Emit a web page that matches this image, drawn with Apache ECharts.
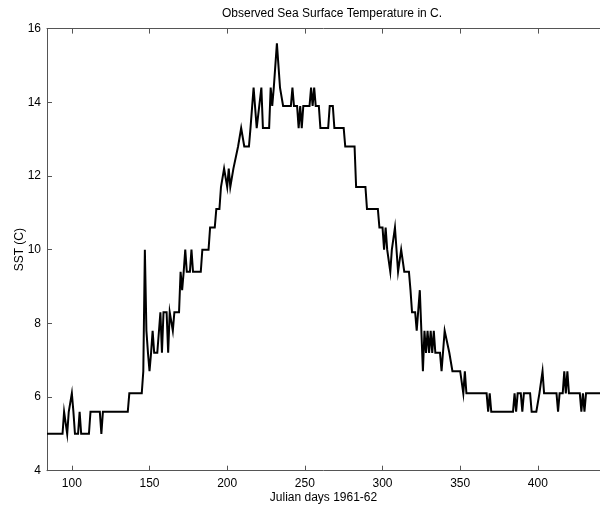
<!DOCTYPE html>
<html>
<head>
<meta charset="utf-8">
<script src="https://cdn.jsdelivr.net/npm/echarts@6/dist/echarts.min.js"></script>
<style>
  html, body { margin: 0; padding: 0; background: #fff; }
  #chart { width: 600px; height: 511px; }
</style>
</head>
<body>
<div id="chart"></div>
<script>
// Daily sea surface temperature record (vertices of the trace), °C
const days = [
  84, 94, 95, 96, 97, 98, 100, 101, 102, 104, 105, 106, 111, 112, 118, 119, 120, 136, 137, 145,
  146, 147, 148, 149, 150, 151, 152, 153, 155, 157, 158, 159, 161, 162, 163, 165, 166, 169, 170, 171,
  172, 173, 174, 176, 177, 178, 183, 184, 188, 189, 192, 193, 195, 196, 198, 200, 201, 202, 204, 205,
  207, 209, 210, 211, 214, 215, 217, 219, 222, 223, 227, 228, 229, 230, 231, 232, 234, 236, 241, 242,
  243, 245, 246, 247, 248, 249, 253, 254, 255, 256, 257, 259, 260, 265, 266, 268, 269, 275, 276, 282,
  283, 289, 290, 297, 298, 300, 301, 302, 303, 305, 306, 308, 310, 311, 312, 314, 317, 318, 319, 321,
  322, 324, 326, 327, 328, 329, 330, 331, 332, 333, 334, 337, 338, 340, 341, 343, 345, 350, 352, 353,
  354, 367, 368, 369, 370, 384, 385, 386, 387, 389, 390, 391, 395, 396, 399, 401, 402, 403, 404, 412,
  413, 414, 416, 417, 418, 419, 420, 421, 427, 428, 429, 430, 431, 440
];
const sst = [
  5.0, 5.0, 5.6, 5.6, 5.0, 5.6, 6.1, 5.6, 5.0, 5.0, 5.6, 5.0, 5.0, 5.6, 5.6, 5.0, 5.6, 5.6, 6.1, 6.1,
  6.7, 10.0, 7.8, 7.2, 6.7, 7.2, 7.8, 7.2, 7.2, 8.3, 7.2, 8.3, 8.3, 7.2, 8.3, 7.8, 8.3, 8.3, 9.4, 8.9,
  9.4, 10.0, 9.4, 9.4, 10.0, 9.4, 9.4, 10.0, 10.0, 10.6, 10.6, 11.1, 11.1, 11.7, 12.2, 11.7, 12.2, 11.7, 12.2, 12.2,
  12.8, 13.3, 13.3, 12.8, 12.8, 13.3, 14.4, 13.3, 14.4, 13.3, 13.3, 14.4, 13.9, 14.4, 14.4, 15.6, 14.4, 13.9, 13.9, 14.4,
  13.9, 13.9, 13.3, 13.9, 13.3, 13.9, 13.9, 14.4, 13.9, 14.4, 13.9, 13.9, 13.3, 13.3, 13.9, 13.9, 13.3, 13.3, 12.8, 12.8,
  11.7, 11.7, 11.1, 11.1, 10.6, 10.6, 10.0, 10.6, 10.0, 9.4, 10.0, 10.6, 9.4, 9.4, 10.0, 9.4, 9.4, 8.9, 8.3, 8.3,
  7.8, 8.9, 6.7, 7.8, 7.2, 7.8, 7.2, 7.8, 7.2, 7.8, 7.2, 7.2, 6.7, 7.8, 7.8, 7.2, 6.7, 6.7, 6.1, 6.7,
  6.1, 6.1, 5.6, 6.1, 5.6, 5.6, 6.1, 5.6, 6.1, 6.1, 5.6, 6.1, 6.1, 5.6, 5.6, 6.1, 6.1, 6.7, 6.1, 6.1,
  5.6, 6.1, 6.1, 6.7, 6.1, 6.7, 6.1, 6.1, 6.1, 5.6, 6.1, 5.6, 6.1, 6.1
];
const xTicks = [100, 150, 200, 250, 300, 350, 400];
const yTicks = [4, 6, 8, 10, 12, 14, 16];

const points = days.map((d, i) => [d, sst[i]]);
const font = 'Liberation Sans, Arial, Helvetica, sans-serif';
const axisGray = '#555555';

const chart = echarts.init(document.getElementById('chart'), null, { renderer: 'canvas' });
chart.setOption({
  animation: false,
  backgroundColor: '#ffffff',
  title: {
    text: 'Observed Sea Surface Temperature in C.',
    left: 327,
    top: 3,
    textAlign: 'center',
    textStyle: { fontFamily: font, fontSize: 12, fontWeight: 'normal', color: '#000' }
  },
  grid: { left: 47, right: -1, top: 28.6, bottom: 40.3, containLabel: false },
  xAxis: [
    {
      type: 'value', min: 84, max: 440, position: 'bottom',
      name: 'Julian days 1961-62', nameLocation: 'middle', nameGap: 21, nameMoveOverlap: false,
      nameTextStyle: { fontFamily: font, fontSize: 12, color: '#000' },
      axisLine: { show: true, lineStyle: { color: axisGray, width: 1 } },
      axisTick: { show: true, inside: true, length: 5, customValues: xTicks, lineStyle: { color: axisGray } },
      axisLabel: { customValues: xTicks, margin: 7, fontFamily: font, fontSize: 12, color: '#000' },
      splitLine: { show: false }
    },
    {
      type: 'value', min: 84, max: 440, position: 'top',
      axisLine: { show: true, onZero: false, lineStyle: { color: axisGray, width: 1 } },
      axisTick: { show: true, inside: true, length: 5, customValues: xTicks, lineStyle: { color: axisGray } },
      axisLabel: { show: false },
      splitLine: { show: false }
    }
  ],
  yAxis: {
    type: 'value', min: 4, max: 16, interval: 2,
    name: 'SST (C)', nameLocation: 'middle', nameGap: 21, nameRotate: 90, nameMoveOverlap: false,
    nameTextStyle: { fontFamily: font, fontSize: 12, color: '#000' },
    axisLine: { show: true, lineStyle: { color: axisGray, width: 1 } },
    axisTick: { show: true, inside: true, length: 5, lineStyle: { color: axisGray } },
    axisLabel: { margin: 6, fontFamily: font, fontSize: 12, color: '#000' },
    splitLine: { show: false }
  },
  series: [{
    type: 'line',
    data: points,
    xAxisIndex: 0,
    showSymbol: false,
    symbol: 'none',
    clip: true,
    lineStyle: { color: '#000', width: 2, join: 'miter' }
  }]
});
</script>
</body>
</html>
